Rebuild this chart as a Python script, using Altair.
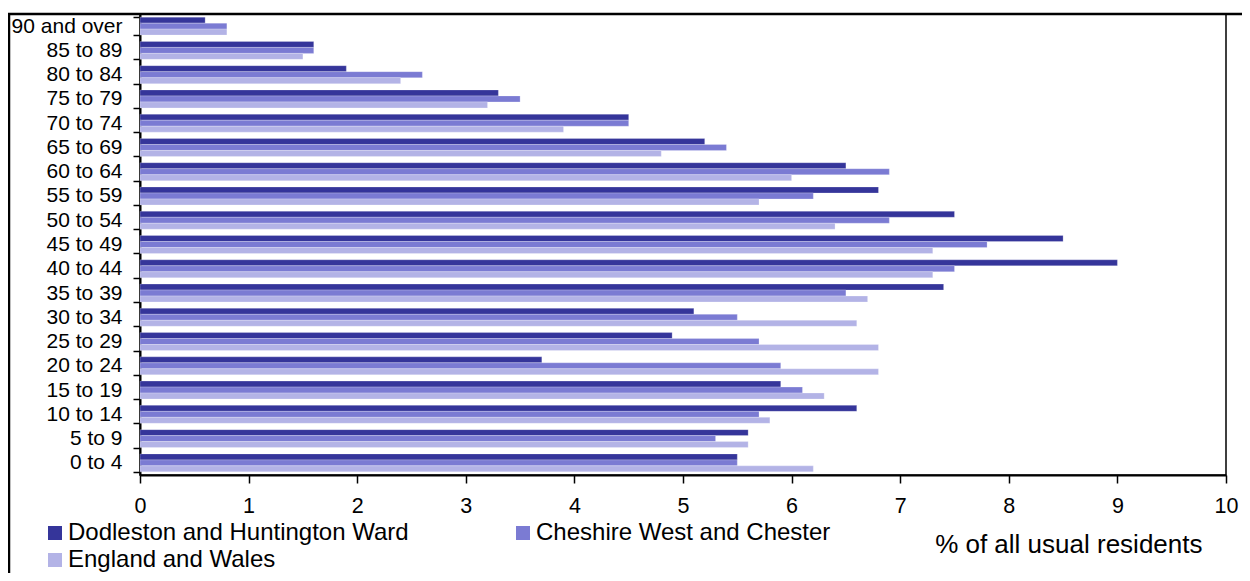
import altair as alt
import pandas as pd

ages = ["0 to 4", "5 to 9", "10 to 14", "15 to 19", "20 to 24", "25 to 29",
        "30 to 34", "35 to 39", "40 to 44", "45 to 49", "50 to 54", "55 to 59",
        "60 to 64", "65 to 69", "70 to 74", "75 to 79", "80 to 84", "85 to 89",
        "90 and over"]
series = ["Dodleston and Huntington Ward", "Cheshire West and Chester", "England and Wales"]
dodleston = [5.5, 5.6, 6.6, 5.9, 3.7, 4.9, 5.1, 7.4, 9.0, 8.5, 7.5, 6.8, 6.5, 5.2, 4.5, 3.3, 1.9, 1.6, 0.6]
cheshire = [5.5, 5.3, 5.7, 6.1, 5.9, 5.7, 5.5, 6.5, 7.5, 7.8, 6.9, 6.2, 6.9, 5.4, 4.5, 3.5, 2.6, 1.6, 0.8]
england = [6.2, 5.6, 5.8, 6.3, 6.8, 6.8, 6.6, 6.7, 7.3, 7.3, 6.4, 5.7, 6.0, 4.8, 3.9, 3.2, 2.4, 1.5, 0.8]
colors = ["#35359a", "#7b7bd3", "#b3b3e6"]

rows = []
for s, vals in zip(series, [dodleston, cheshire, england]):
    for a, v in zip(ages, vals):
        rows.append({"age": a, "series": s, "value": v})
df = pd.DataFrame(rows)

FONT = "Liberation Sans"
W, H = 1086, 461

bars = alt.Chart(df).mark_bar(stroke="white", strokeWidth=0.4, strokeOpacity=0.6).encode(
    x=alt.X("value:Q",
            scale=alt.Scale(domain=[0, 10], nice=False, zero=True),
            axis=alt.Axis(values=list(range(0, 11)), title="% of all usual residents",
                          grid=False, tickSize=8, tickColor="black", tickWidth=1.5,
                          domainColor="black", domainWidth=2,
                          labelFont=FONT, labelFontSize=21.5, labelColor="black",
                          labelPadding=12, labelFlush=False,
                          titleFont=FONT, titleFontSize=26, titleFontWeight="normal",
                          titleColor="black", titleX=1062, titleY=77,
                          titleAlign="right", titleBaseline="alphabetic")),
    y=alt.Y("age:N", sort=list(reversed(ages)),
            scale=alt.Scale(paddingInner=0.26, paddingOuter=0.13),
            axis=alt.Axis(title=None, tickBand="extent", tickSize=7, tickColor="black",
                          tickWidth=1.5, domainColor="black", domainWidth=2,
                          labelFont=FONT, labelFontSize=21, labelColor="black",
                          labelPadding=11)),
    yOffset=alt.YOffset("series:N", sort=series, scale=alt.Scale(paddingInner=0, paddingOuter=0)),
    color=alt.Color("series:N", sort=series,
                    scale=alt.Scale(domain=series, range=colors),
                    legend=alt.Legend(title=None, orient="none", legendX=-97, legendY=507,
                                      direction="horizontal", columns=2,
                                      symbolType="square", symbolSize=196,
                                      symbolStrokeWidth=0, labelFont=FONT, labelFontSize=24,
                                      labelColor="black", labelOffset=1, columnPadding=102,
                                      rowPadding=3, padding=0, labelLimit=600)),
)

frame = pd.DataFrame({"k": [0]})
top_line = alt.Chart(frame).mark_rule(color="black", strokeWidth=2.5).encode(
    x=alt.value(-132), x2=alt.value(W + 30), y=alt.value(0))
left_line = alt.Chart(frame).mark_rule(color="black", strokeWidth=2.5).encode(
    x=alt.value(-131), y=alt.value(0), y2=alt.value(H + 120))

chart = alt.layer(bars, top_line, left_line).properties(
    width=W, height=H,
    autosize=alt.AutoSizeParams(type="none"),
    padding={"left": 132, "top": 6, "right": 16, "bottom": 98},
    background="white",
).configure_view(stroke="black", strokeWidth=1.5)

chart.save("out.html", embed_options={"renderer": "svg", "actions": False})
